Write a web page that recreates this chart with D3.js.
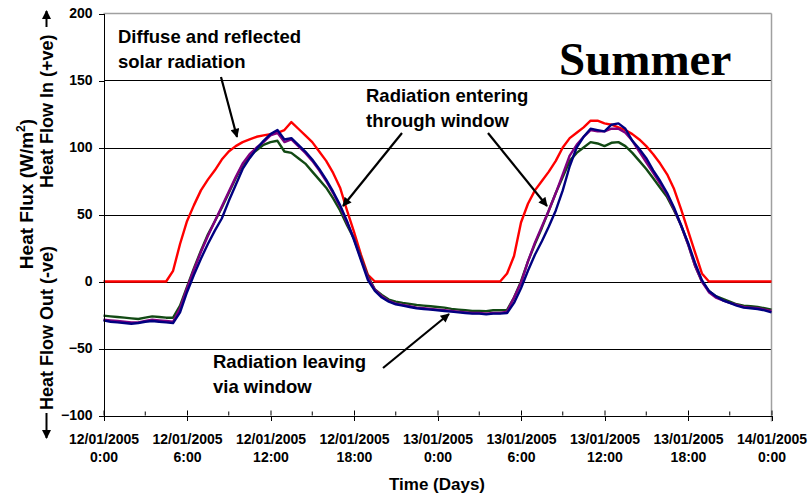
<!DOCTYPE html>
<html>
<head>
<meta charset="utf-8">
<script src="https://cdnjs.cloudflare.com/ajax/libs/d3/7.8.5/d3.min.js"></script>
<style>
body{margin:0;background:#fff;}
svg text{font-family:Arial,"Liberation Sans",sans-serif;font-weight:bold;fill:#000;}
</style>
</head>
<body>
<div id="chart"></div>
<script>
// half-hourly readings, 12/01/2005 0:00 -> 14/01/2005 0:00
var hours = d3.range(0, 48.5, 0.5);

// diffuse and reflected solar radiation (red)
var diffuse = [
  0,0,0,0,0,0,0,0,0,0,8,28,
  45,57,68,76,83,91,97,101,104,106,108,109,
  110,111,113,119,114,109,104,97,90,81,70,53,
  37,20,5,0,0,0,0,0,0,0,0,0,
  0,0,0,0,0,0,0,0,0,0,6,19,
  44,58,68,75,82,90,100,107,111,115,120,120,
  118,117,115,113,110,106,101,95,88,80,69,54,
  38,22,6,0,0,0,0,0,0,0,0,0,
  0];
// window series (dark green)
var windowGreen = [
  -25.5,-26,-26.5,-27,-27.5,-28,-27,-26,-26.5,-27,-27,-18,
  -4,10,23,35,45,55,66,77,87,94,98,102,
  104,105,97,96,92,88,82,76,70,62,53,42,
  32,18,4,-6,-10,-13.5,-15,-16,-16.7,-17.5,-18,-18.5,
  -19,-19.5,-20.4,-21,-21.5,-22,-22,-22.2,-21.5,-21.5,-21.2,-12,
  0,15,28,40,53,66,78,90,96,100,104,103,
  101,103.5,104,101,96,90,84,77,70,63,53,42,
  28,12,0,-7,-11,-13,-15,-17,-18,-18.5,-19,-20,
  -21];
// window series (purple)
var windowPurple = [
  -28.5,-29,-29.5,-30,-30.5,-30.5,-29.5,-28.5,-29,-29.5,-30,-20,
  -5,9,22,34,45,56,67,78,88,95,100,104,
  109,111,104,106,101,96,90,83,75,66,56,44,
  32,17,3,-6,-11,-14.5,-16.5,-17.5,-18.5,-19.5,-20,-20.5,
  -21,-21.5,-22,-22.5,-23,-23.5,-23.5,-24,-23.5,-23.5,-22.5,-12,
  -1,15,29,41,53,66,80,94,102,108,113,112,
  112,114,114,111,105,97,89,81,73,65,54,42,
  28,12,0,-8,-12,-14,-16,-17.5,-19,-19.5,-20,-21,
  -22];
// window series (navy)
var windowBlue = [
  -29,-30,-30.5,-31,-31.5,-31,-30,-29.5,-30,-30.5,-31,-23,
  -8,5,17,28,38,47,60,72,84,92,99,105,
  110,113,106,107,102,97,91,84,76,67,57,45,
  31,16,1,-7,-12,-15,-17,-18,-19,-20,-20.5,-21,
  -21.5,-22,-22.5,-23,-23.5,-24,-24,-24.5,-24,-24,-23.5,-16,
  -5,8,20,30,41,53,68,86,100,108,114,113,
  112,117,118,114,105,99,92,83,75,66,55,42,
  29,14,1,-7,-11,-14,-16,-18,-19.5,-20,-20.5,-21.5,
  -23];

var yTicks = [-100,-50,0,50,100,150,200];
var gridVals = [-50,0,50,100,150];
var xTicks = [0,6,12,18,24,30,36,42,48];
var xMinor = [3,9,15,21,27,33,39,45];
var tickDates = ["12/01/2005","12/01/2005","12/01/2005","12/01/2005","13/01/2005","13/01/2005","13/01/2005","13/01/2005","14/01/2005"];
var tickTimes = ["0:00","6:00","12:00","18:00","0:00","6:00","12:00","18:00","0:00"];

var series = [
  {name:"diffuse", values:diffuse, color:"#ff0000"},
  {name:"green", values:windowGreen, color:"#124a14"},
  {name:"purple", values:windowPurple, color:"#800080"},
  {name:"blue", values:windowBlue, color:"#000080"}
];

var width = 809, height = 499;
var x = d3.scaleLinear().domain([0,48]).range([103.5,771.5]);
var y = d3.scaleLinear().domain([-100,200]).range([415.5,13.5]);

var svg = d3.select("#chart").append("svg")
    .attr("width", width)
    .attr("height", height);

svg.append("rect").attr("width",width).attr("height",height).attr("fill","#fff");

svg.append("defs").append("marker")
    .attr("id","head")
    .attr("viewBox","0 0 10 10")
    .attr("refX",9).attr("refY",5)
    .attr("markerUnits","userSpaceOnUse")
    .attr("markerWidth",11).attr("markerHeight",9)
    .attr("orient","auto")
  .append("path").attr("d","M0,0L10,5L0,10z").attr("fill","#000");

// gridlines
svg.append("g").selectAll("line").data(gridVals).join("line")
    .attr("x1",x(0)).attr("x2",x(48))
    .attr("y1",d=>Math.round(y(d))+0.5).attr("y2",d=>Math.round(y(d))+0.5)
    .attr("stroke","#000").attr("stroke-width",1)
    .attr("shape-rendering","crispEdges");

// plot frame (top / right)
svg.append("line").attr("x1",x(0)).attr("x2",x(48)).attr("y1",y(200)).attr("y2",y(200))
    .attr("stroke","#a0a0a0").attr("stroke-width",1.5);
svg.append("line").attr("x1",x(48)).attr("x2",x(48)).attr("y1",y(200)).attr("y2",y(-100)+6)
    .attr("stroke","#a0a0a0").attr("stroke-width",1.5);

// lines
var line = d3.line()
    .x((d,i)=>x(hours[i]))
    .y(d=>y(d));

svg.append("g").selectAll("path").data(series).join("path")
    .attr("d",d=>line(d.values))
    .attr("fill","none")
    .attr("stroke",d=>d.color)
    .attr("stroke-width",2.4)
    .attr("stroke-linejoin","round");

// y axis
var yAxis = svg.append("g").attr("transform","translate("+x(0)+",0)")
    .call(d3.axisLeft(y).tickValues(yTicks).tickSize(5).tickSizeOuter(0).tickPadding(6));
yAxis.selectAll("text").style("font-size","14px");
yAxis.selectAll("line,path").attr("stroke","#000").attr("shape-rendering","crispEdges");

// x axis
var xAxis = svg.append("g").attr("transform","translate(0,"+y(-100)+")")
    .call(d3.axisBottom(x).tickValues(xTicks).tickSize(5).tickSizeOuter(0).tickFormat(""));
xAxis.selectAll("line,path").attr("stroke","#000").attr("shape-rendering","crispEdges");
xAxis.selectAll(".tick").append("line").attr("y2",-5).attr("stroke","#000");
xAxis.selectAll(".minor").data(xMinor).join("line")
    .attr("class","minor")
    .attr("x1",d=>x(d)).attr("x2",d=>x(d))
    .attr("y1",0).attr("y2",-4).attr("stroke","#000");
var lab = xAxis.selectAll(".tick").append("text")
    .attr("text-anchor","middle").style("font-size","14px");
lab.append("tspan").attr("x",0).attr("y",28).text((d,i)=>tickDates[i]);
lab.append("tspan").attr("x",0).attr("y",46).text((d,i)=>tickTimes[i]);

// axis titles
svg.append("text").attr("x",437).attr("y",490).attr("text-anchor","middle")
    .style("font-size","17px").text("Time (Days)");

var yt = svg.append("text").attr("transform","translate(33,194) rotate(-90)")
    .attr("text-anchor","middle").style("font-size","19px");
yt.append("tspan").text("Heat Flux (W/m");
yt.append("tspan").attr("dy",-8).style("font-size","12px").text("2");
yt.append("tspan").attr("dy",8).text(")");

svg.append("text").attr("transform","translate(53,188) rotate(-90)")
    .style("font-size","18px").text("Heat Flow In (+ve)");
svg.append("text").attr("transform","translate(53,410) rotate(-90)")
    .style("font-size","18px").text("Heat Flow Out (-ve)");
svg.append("line").attr("x1",46.5).attr("x2",46.5).attr("y1",27).attr("y2",11)
    .attr("stroke","#000").attr("stroke-width",2).attr("marker-end","url(#head)");
svg.append("line").attr("x1",46.5).attr("x2",46.5).attr("y1",413).attr("y2",438)
    .attr("stroke","#000").attr("stroke-width",2).attr("marker-end","url(#head)");

// annotations
function note(lines, tx, ty){
  var t = svg.append("text").style("font-size","18.5px");
  lines.forEach((s,i)=>t.append("tspan").attr("x",tx).attr("y",ty+i*25).text(s));
}
function arrow(x1,y1,x2,y2){
  svg.append("line").attr("x1",x1).attr("y1",y1).attr("x2",x2).attr("y2",y2)
    .attr("stroke","#000").attr("stroke-width",2.2).attr("marker-end","url(#head)");
}
note(["Diffuse and reflected","solar radiation"],118,43);
arrow(221,77,237,137);
note(["Radiation entering","through window"],366,102);
arrow(402,133,343,206);
arrow(488,133,547,206);
note(["Radiation leaving","via window"],213,368);
arrow(383,368,449,314);

svg.append("text").attr("x",559).attr("y",75)
    .style("font-family","'Times New Roman','Liberation Serif',serif")
    .style("font-size","47px").text("Summer");
</script>
</body>
</html>
